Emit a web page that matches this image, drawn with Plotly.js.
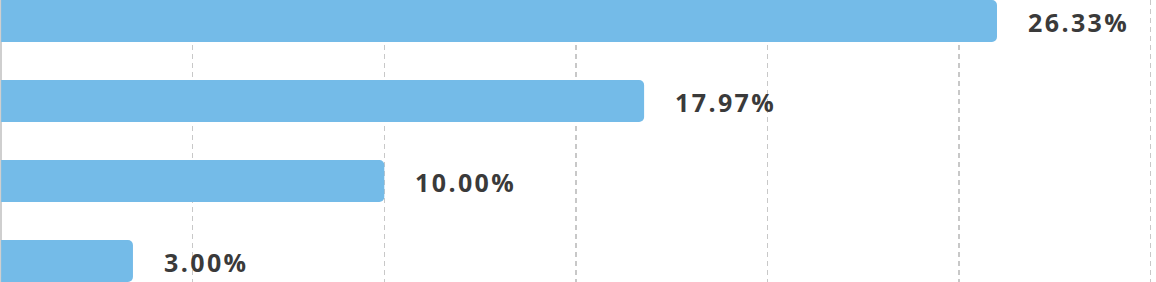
<!DOCTYPE html>
<html>
<head>
<meta charset="utf-8">
<script src="https://cdn.plot.ly/plotly-3.0.1.min.js"></script>
<style>html,body{margin:0;padding:0;background:#fff;}#chart{width:1156px;height:282px;}
.annotation-text{letter-spacing:2.4px;}</style>
</head>
<body>
<div id="chart"></div>
<script>
// Data
var categories = ['Item 1', 'Item 2', 'Item 3', 'Item 4'];
var barLengths = [25.99, 16.78, 10.00, 3.44];   // bar lengths as drawn against the grid
var valueLabels = ['26.33%', '17.97%', '10.00%', '3.00%'];

var trace = {
  type: 'bar',
  orientation: 'h',
  y: categories,
  x: barLengths,
  width: 0.525,
  marker: { color: '#74bbe8', cornerradius: 5 },
  hoverinfo: 'none'
};

var annotations = categories.map(function (c, i) {
  return {
    x: barLengths[i], y: c, xref: 'x', yref: 'y',
    text: '<b>' + valueLabels[i] + '</b>',
    showarrow: false, xanchor: 'left', yanchor: 'middle', xshift: 29, yshift: -1,
    font: { family: 'Open Sans, Noto Sans, sans-serif', size: 25, color: '#3a3a3a' }
  };
});

var layout = {
  width: 1156, height: 282,
  margin: { l: 0, r: 0, t: 0, b: 0, pad: 0 },
  paper_bgcolor: '#ffffff', plot_bgcolor: '#ffffff',
  showlegend: false,
  xaxis: {
    range: [-0.03, 30.14], dtick: 5, tick0: 0,
    showgrid: true, gridcolor: '#c8c8c8', gridwidth: 1.5, griddash: '5px,4px',
    zeroline: true, zerolinecolor: '#cfcfcf', zerolinewidth: 2,
    showticklabels: false, ticks: '', showline: false, fixedrange: true
  },
  yaxis: {
    type: 'category', range: [3.2625, -0.2625],
    showgrid: false, zeroline: false, showticklabels: false, ticks: '', showline: false, fixedrange: true
  },
  annotations: annotations
};

Plotly.newPlot('chart', [trace], layout, { displayModeBar: false, staticPlot: true });
</script>
</body>
</html>
